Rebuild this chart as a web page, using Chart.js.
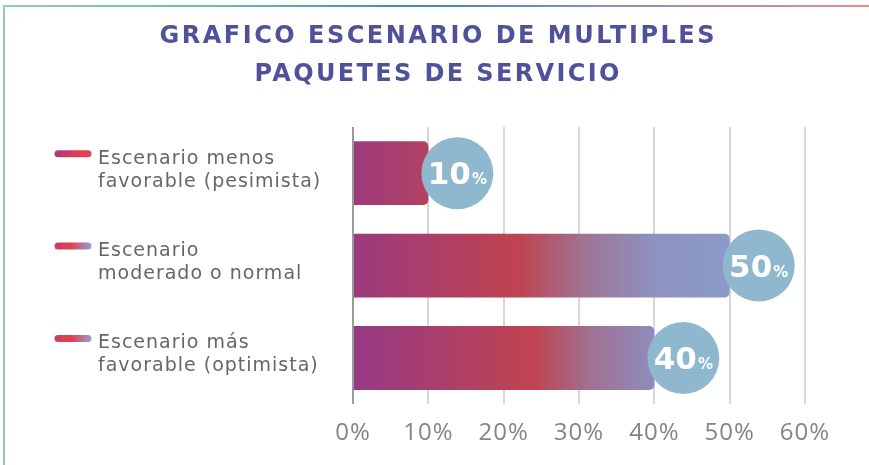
<!DOCTYPE html>
<html>
<head>
<meta charset="utf-8">
<script src="https://cdn.jsdelivr.net/npm/chart.js@4"></script>
<style>
  html, body { margin: 0; padding: 0; background: #fff; }
  #wrap { position: relative; width: 869px; height: 465px; overflow: hidden; }
  #frameTop { position: absolute; left: 3px; top: 5px; width: 866px; height: 2px;
    background: linear-gradient(to right, #8fd3a0 0%, #6fb8b8 25%, #3f86c8 48%, #8a8fc0 70%, #f08a8a 100%); }
  #frameLeft { position: absolute; left: 3px; top: 5px; width: 2px; height: 460px; background: #8fd3a0; }
  canvas { position: absolute; left: 0; top: 0; }
</style>
</head>
<body>
<div id="wrap">
  <div id="frameTop"></div>
  <div id="frameLeft"></div>
  <canvas id="myChart" width="869" height="465"></canvas>
</div>
<script>
// data
const scenarios = [
    ['Escenario menos', 'favorable (pesimista)'],
    ['Escenario', 'moderado o normal'],
    ['Escenario más', 'favorable (optimista)']
];
const percentages = [10, 50, 40];
const tickValues = [0, 10, 20, 30, 40, 50, 60];
const chartTitle = ['GRAFICO ESCENARIO DE MULTIPLES', 'PAQUETES DE SERVICIO'];

// gradient stops for each bar (fraction of bar length, colour)
const barStops = [
    [[0, '#9d3a7c'], [1, '#b24262']],
    [[0, '#9b3a7e'], [0.44, '#c0434f'], [0.62, '#9e7596'], [0.8, '#8e92bf'], [1, '#8a9ac9']],
    [[0, '#963a86'], [0.6, '#c0434f'], [0.78, '#a0708f'], [1, '#8f8cbf']]
];
const markerStops = [
    [[0, '#a83a82'], [0.7, '#e2404f'], [1, '#d8465c']],
    [[0, '#c83d6a'], [0.45, '#e2404f'], [1, '#8fa0d4']],
    [[0, '#d23d5e'], [0.45, '#e2404f'], [1, '#9a9cc8']]
];

const labelFont = { family: 'DejaVu Sans', size: 19, lineHeight: 1.21 };
const labelShift = -3;

const ctx = document.getElementById('myChart');

function barGradient(c) {
    const chart = c.chart;
    if (!chart.chartArea || !chart.scales.x) return '#b0405e';
    const x0 = chart.scales.x.getPixelForValue(0);
    const x1 = chart.scales.x.getPixelForValue(percentages[c.dataIndex]);
    const g = chart.ctx.createLinearGradient(x0, 0, x1, 0);
    barStops[c.dataIndex].forEach(function (s) { g.addColorStop(s[0], s[1]); });
    return g;
}

// wider letters for the axis texts, like the original typeface
const textSpacing = {
    id: 'textSpacing',
    beforeDraw(chart) { chart.ctx.letterSpacing = '1px'; },
    beforeDatasetsDraw(chart) { chart.ctx.letterSpacing = '0px'; }
};

// spaced-out title, each line fitted to the width seen in the original
const titleWidths = [555, 365];
const spacedTitle = {
    id: 'spacedTitle',
    afterDraw(chart) {
        const c = chart.ctx;
        c.save();
        c.font = 'bold 24px "DejaVu Sans"';
        c.fillStyle = '#4f519b';
        c.textAlign = 'center';
        c.textBaseline = 'middle';
        chartTitle.forEach(function (line, i) {
            c.letterSpacing = '0px';
            const w = c.measureText(line).width;
            const sp = Math.max(0, (titleWidths[i] - w) / (line.length - 1));
            c.letterSpacing = sp.toFixed(2) + 'px';
            c.fillText(line, 437 + sp / 2, 37 + i * 38);
        });
        c.restore();
    }
};

// blue circles with the value at the end of each bar
const bubbleLabels = {
    id: 'bubbleLabels',
    afterDatasetsDraw(chart) {
        const c = chart.ctx;
        const meta = chart.getDatasetMeta(0);
        meta.data.forEach(function (bar, i) {
            const cx = bar.x + 29, cy = bar.y;
            c.save();
            c.beginPath();
            c.arc(cx, cy, 36, 0, Math.PI * 2);
            c.fillStyle = '#8fb8cf';
            c.fill();
            c.fillStyle = '#ffffff';
            c.textBaseline = 'alphabetic';
            c.textAlign = 'left';
            const num = String(percentages[i]);
            c.font = 'bold 31px "DejaVu Sans"';
            const w1 = c.measureText(num).width;
            c.font = 'bold 15px "DejaVu Sans"';
            const w2 = c.measureText('%').width;
            const left = cx - (w1 + w2 + 1) / 2;
            c.font = 'bold 31px "DejaVu Sans"';
            c.fillText(num, left, cy + 11);
            c.font = 'bold 15px "DejaVu Sans"';
            c.fillText('%', left + w1 + 1, cy + 11);
            c.restore();
        });
    }
};

// small gradient line in front of each category label
const labelMarkers = {
    id: 'labelMarkers',
    afterDraw(chart) {
        const c = chart.ctx;
        const y = chart.scales.y;
        const lh = labelFont.size * labelFont.lineHeight;
        percentages.forEach(function (v, i) {
            const py = y.getPixelForValue(i) + labelShift - lh / 2 - 5;
            const g = c.createLinearGradient(55, 0, 91, 0);
            markerStops[i].forEach(function (s) { g.addColorStop(s[0], s[1]); });
            c.save();
            c.strokeStyle = g;
            c.lineWidth = 7;
            c.lineCap = 'round';
            c.beginPath();
            c.moveTo(58, py);
            c.lineTo(88, py);
            c.stroke();
            c.restore();
        });
    }
};

const myChart = new Chart(ctx, {
    type: 'bar',
    data: {
        labels: scenarios,
        datasets: [{
            data: percentages,
            backgroundColor: barGradient,
            borderWidth: 0,
            borderRadius: 5,
            borderSkipped: 'start',
            categoryPercentage: 1,
            barPercentage: 0.69
        }]
    },
    options: {
        indexAxis: 'y',
        responsive: false,
        animation: false,
        layout: { padding: { left: 98, right: 64, top: 127, bottom: 2 } },
        plugins: {
            legend: { display: false },
            tooltip: { enabled: false },
            title: { display: false }
        },
        scales: {
            x: {
                min: 0,
                max: 60,
                afterBuildTicks: function (axis) {
                    axis.ticks = tickValues.map(function (v) { return { value: v }; });
                },
                grid: {
                    drawTicks: false,
                    lineWidth: 2,
                    color: function (c) { return c.index === 0 ? '#9a9a9a' : '#d8d8d8'; }
                },
                border: { display: false },
                ticks: {
                    padding: 15,
                    color: '#858585',
                    font: { family: 'Open Sans', size: 24 },
                    callback: function (v) { return v + '%'; }
                }
            },
            y: {
                grid: { display: false },
                border: { display: false },
                afterFit: function (axis) { axis.width = 255; },
                ticks: {
                    crossAlign: 'far',
                    labelOffset: labelShift,
                    color: '#666666',
                    font: labelFont
                }
            }
        }
    },
    plugins: [textSpacing, bubbleLabels, labelMarkers, spacedTitle]
});
</script>
</body>
</html>
